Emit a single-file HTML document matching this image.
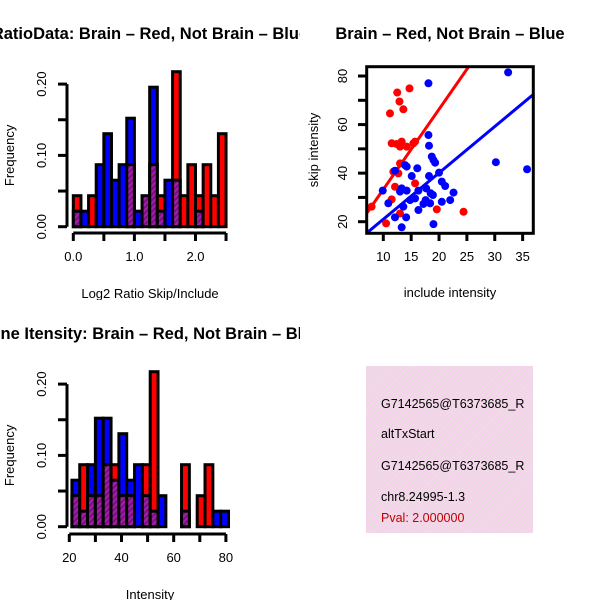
<!DOCTYPE html>
<html><head><meta charset="utf-8"><style>
html,body{margin:0;padding:0;background:#fff;}
svg text{font-family:"Liberation Sans",sans-serif;}
</style></head><body>
<svg id="root" width="600" height="600" viewBox="0 0 600 600" xmlns="http://www.w3.org/2000/svg">
<defs>
<pattern id="hatch" width="4" height="4" patternUnits="userSpaceOnUse" patternTransform="rotate(45)">
<rect width="4" height="4" fill="#a020a8"/><rect width="2" height="4" fill="#7a1080"/></pattern>
<pattern id="pink" width="4" height="4" patternUnits="userSpaceOnUse" patternTransform="rotate(45)">
<rect width="4" height="4" fill="#f8d0f0"/><rect width="1.3" height="4" fill="#e4e4d6"/></pattern>
<clipPath id="c1"><rect x="0" y="0" width="300" height="300"/></clipPath>
<clipPath id="c3"><rect x="0" y="300" width="300" height="300"/></clipPath>
<clipPath id="c2"><rect x="366.7" y="66.7" width="166.6" height="166.6"/></clipPath>
<clipPath id="c4"><rect x="366" y="366" width="167" height="167"/></clipPath>
</defs>
<g id="p1" clip-path="url(#c1)"></g>
<g id="p3" clip-path="url(#c3)"></g>
<g id="p2"></g>
<g id="p4">
<rect x="366" y="366" width="167" height="167" fill="url(#pink)"/>
<g clip-path="url(#c4)" font-size="12.5">
<text x="381" y="408">G7142565@T6373685_R</text>
<text x="381" y="438">altTxStart</text>
<text x="381" y="470">G7142565@T6373685_R</text>
<text x="381" y="501">chr8.24995-1.3</text>
<text x="381" y="522" fill="#c00000">Pval: 2.000000</text>
</g></g>
</svg>
<script>
// Top histogram data (counts out of 46)
const ratioRed = [2,0,2,0,0,0,0,4,0,2,4,2,0,10,2,4,2,4,2,6];
const ratioBlue = [1,1,0,4,6,3,4,7,1,2,9,1,3,3,0,0,1,0,0,0];
const ratioTicks = [0,0.5,1,1.5,2,2.5];
const ratioTickLabels = ["0.0","","1.0","","2.0",""];
// Bottom histogram data
const intRed = [2,4,2,2,4,4,2,2,0,4,10,0,0,0,4,0,2,4,0,0];
const intBlue = [3,1,4,7,7,3,6,3,4,2,1,2,0,0,1,0,0,0,1,1];
const intTicks = [20,30,40,50,60,70,80];
const intTickLabels = ["20","","40","","60","","80"];
const freqTicks = [0,0.05,0.1,0.15,0.2];
const freqTickLabels = ["0.00","","0.10","","0.20"];
// Scatter data
const redX = [7.9,10.5,11.2,11.5,12.1,12.5,12.9,13.6,14.7,11.5,12.4,13.3,13.0,14.2,15.4,15.7,13.0,12.7,13.0,15.7,19.6,24.4,11.8];
const redY = [26.2,19.3,64.6,29.2,34.4,73.2,69.5,66.3,74.9,52.3,52.0,53.0,50.9,50.9,52.3,53.0,44.0,39.9,23.4,35.8,25.1,24.1,40.6];
const blueX = [9.9,10.9,12.1,12.1,13.3,13.0,13.3,14.2,14.1,13.9,14.2,15.1,16.1,16.3,14.8,15.7,16.3,17.2,13.6,18.1,18.1,18.2,18.7,19.0,19.3,18.2,17.7,18.5,18.9,18.4,19.0,20.0,20.5,21.1,20.5,22.0,22.6,30.2,32.4,35.8,17.6];
const blueY = [32.8,27.6,21.8,41.0,17.7,32.4,33.7,32.8,21.8,43.3,42.7,38.8,42.0,32.8,28.9,29.6,24.8,27.3,26.2,77.0,55.7,51.3,46.8,45.4,44.3,38.8,33.7,31.7,31.0,27.6,19.0,40.2,36.5,34.7,28.2,28.9,32.0,44.5,81.5,41.6,28.9];
const redFit = [0.3,3.3];
const blueFit = [1.9,1.91];
const scatXTicks = [10,15,20,25,30,35];
const scatYTicks = [20,30,40,50,60,70,80];
const scatYTickLabels = ["20","","40","","60","","80"];

const NS="http://www.w3.org/2000/svg";
function mk(parent,tag,attrs){const e=document.createElementNS(NS,tag);for(const k in attrs)e.setAttribute(k,attrs[k]);parent.appendChild(e);return e;}

function hist(g,red,blue,x0,bw,xs,ys,ticks,tickLabels,axY,yZero,title,xlab){
  const N=46;
  for(let i=0;i<red.length;i++){
    const r=red[i]/N,b=blue[i]/N;const xl=xs(x0+i*bw),xr=xs(x0+(i+1)*bw);
    const hi=Math.max(r,b),lo=Math.min(r,b);
    if(hi>0){
      const col=r===b?"url(#hatch)":(r>b?"#ff0000":"#0000ff");
      const e=mk(g,"rect",{x:xl,y:ys(hi),width:xr-xl,height:ys(0)-ys(hi),fill:col,stroke:"#000","stroke-width":3});
      
      
    }
    if(lo>0&&r!==b){
      const e=mk(g,"rect",{x:xl,y:ys(lo),width:xr-xl,height:ys(0)-ys(lo),fill:"url(#hatch)",stroke:"#000","stroke-width":3});
      
      
    }
  }
  const ya=mk(g,"line",{x1:67,x2:67,y1:ys(0),y2:ys(0.2),stroke:"#000","stroke-width":3});
  
  
  freqTicks.forEach((t,i)=>{
    mk(g,"line",{x1:58,x2:67,y1:ys(t),y2:ys(t),stroke:"#000","stroke-width":3});
    if(freqTickLabels[i]){const tx=mk(g,"text",{x:0,y:0,"font-size":13,"text-anchor":"middle",transform:`translate(46,${ys(t)}) rotate(-90)`});tx.textContent=freqTickLabels[i];
      
      }
  });
  const xa=mk(g,"line",{x1:xs(ticks[0]),x2:xs(ticks[ticks.length-1]),y1:axY,y2:axY,stroke:"#000","stroke-width":3});
  
  
  ticks.forEach((t,i)=>{
    mk(g,"line",{x1:xs(t),x2:xs(t),y1:axY,y2:axY+8,stroke:"#000","stroke-width":3});
    if(tickLabels[i]){const tx=mk(g,"text",{x:xs(t),y:axY+28,"font-size":13,"text-anchor":"middle"});tx.textContent=tickLabels[i];
      
      }
  });
  const yl=mk(g,"text",{x:0,y:0,"font-size":13,"text-anchor":"middle",transform:`translate(14,${(ys(0)+ys(0.2))/2}) rotate(-90)`});yl.textContent="Frequency";
  
  
  const xl=mk(g,"text",{x:150,y:axY+65,"font-size":13,"text-anchor":"middle"});xl.textContent=xlab;
  
  
  const tt=mk(g,"text",{x:150,y:yZero,"font-size":16.5,"font-weight":"bold","text-anchor":"middle"});tt.textContent=title;
  
  
}
const p1=document.getElementById('p1');
hist(p1,ratioRed,ratioBlue,0,0.125,v=>73.3+v*61.1,v=>226.7-v*713,ratioTicks,ratioTickLabels,233,39,"RatioData: Brain \u2013 Red, Not Brain \u2013 Blue","Log2 Ratio Skip/Include");
const p3=document.getElementById('p3');
hist(p3,intRed,intBlue,21,3,v=>69.3+(v-20)*2.61,v=>526.7-v*713,intTicks,intTickLabels,534,339,"Gene Itensity: Brain \u2013 Red, Not Brain \u2013 Blue","Intensity");

const p2=document.getElementById('p2');
const sx=v=>383.3+(v-10)*5.573, sy=v=>221.7-(v-20)*2.428;
const cg=mk(p2,"g",{"clip-path":"url(#c2)"});
[[redFit,"#ff0000","red-fit-line"],[blueFit,"#0000ff","blue-fit-line"]].forEach(([f,c,n])=>{
  const e=mk(cg,"line",{x1:sx(5),y1:sy(f[0]+f[1]*5),x2:sx(40),y2:sy(f[0]+f[1]*40),stroke:c,"stroke-width":3});
  
  
});
redX.forEach((x,i)=>{const e=mk(cg,"circle",{cx:sx(x),cy:sy(redY[i]),r:4,fill:"#ff0000"});
  
  });
blueX.forEach((x,i)=>{const e=mk(cg,"circle",{cx:sx(x),cy:sy(blueY[i]),r:4,fill:"#0000ff"});
  
  });
const box=mk(p2,"rect",{x:366.7,y:66.7,width:166.6,height:166.6,fill:"none",stroke:"#000","stroke-width":3});


scatXTicks.forEach(t=>{mk(p2,"line",{x1:sx(t),x2:sx(t),y1:233,y2:241,stroke:"#000","stroke-width":3});
  const tx=mk(p2,"text",{x:sx(t),y:261,"font-size":13,"text-anchor":"middle"});tx.textContent=t;
  
  });
scatYTicks.forEach((t,i)=>{mk(p2,"line",{x1:358,x2:366.7,y1:sy(t),y2:sy(t),stroke:"#000","stroke-width":3});
  if(scatYTickLabels[i]){const tx=mk(p2,"text",{x:0,y:0,"font-size":13,"text-anchor":"middle",transform:`translate(347,${sy(t)}) rotate(-90)`});tx.textContent=scatYTickLabels[i];
  
  }});
let e=mk(p2,"text",{x:450,y:297,"font-size":13,"text-anchor":"middle"});e.textContent="include intensity";


e=mk(p2,"text",{x:0,y:0,"font-size":13,"text-anchor":"middle",transform:"translate(318,150) rotate(-90)"});e.textContent="skip intensity";


e=mk(p2,"text",{x:450,y:39,"font-size":16.5,"font-weight":"bold","text-anchor":"middle"});e.textContent="Brain \u2013 Red, Not Brain \u2013 Blue";


</script>
</body></html>
